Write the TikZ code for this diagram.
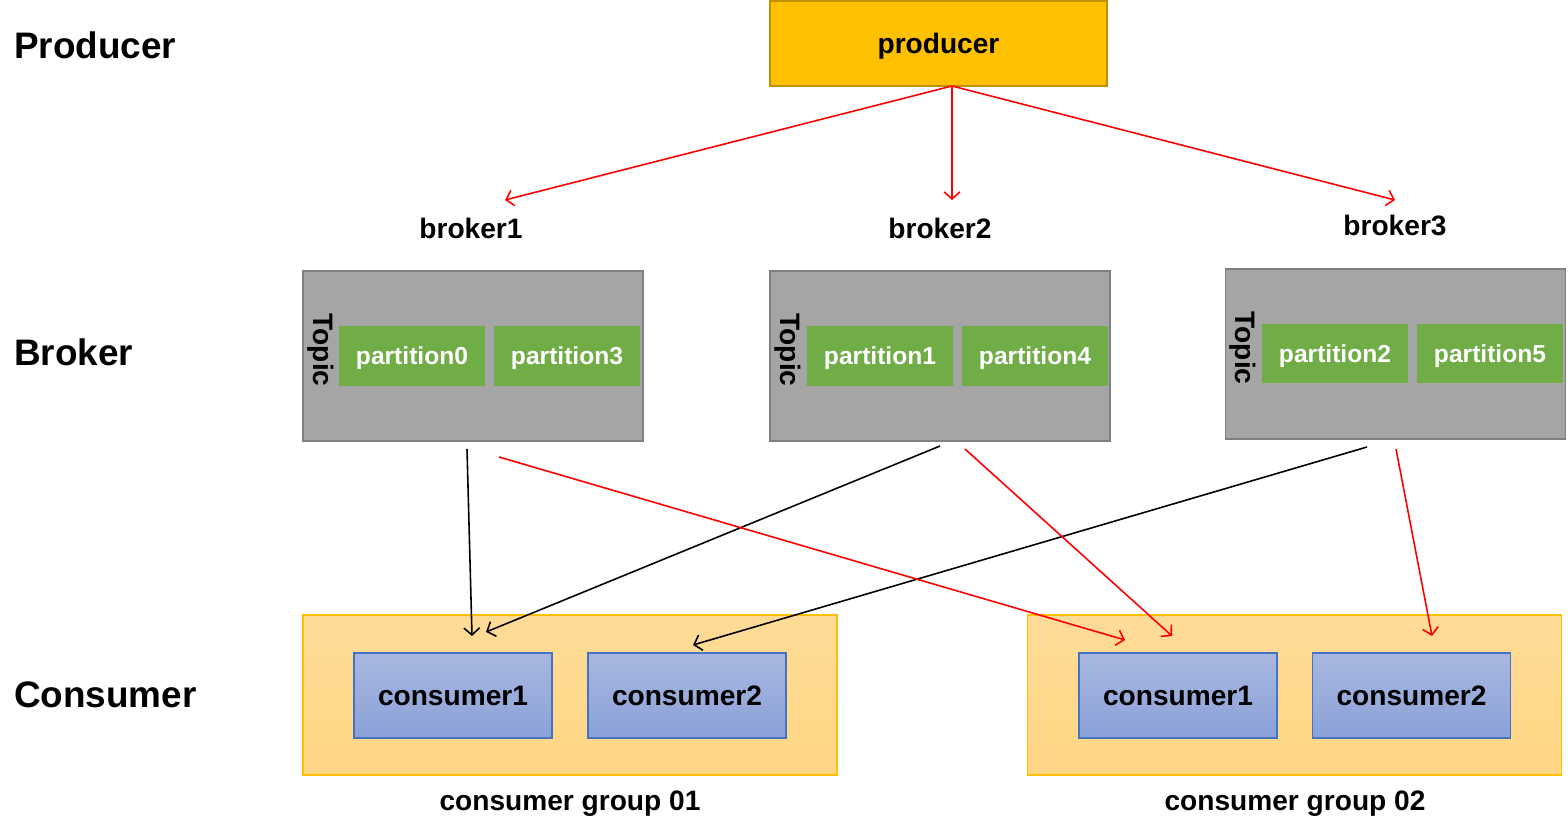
\documentclass[tikz,border=0pt]{standalone}
\usepackage{fontspec}
\setmainfont{Liberation Sans}
\usetikzlibrary{positioning}
\usetikzlibrary{arrows.meta}
\definecolor{prodfill}{HTML}{FFC000}
\definecolor{proddraw}{HTML}{BF9000}
\definecolor{brokerfill}{HTML}{A5A5A5}
\definecolor{brokerdraw}{HTML}{7F7F7F}
\definecolor{partfill}{HTML}{70AD47}
\definecolor{grouptop}{HTML}{FFDB97}
\definecolor{groupbot}{HTML}{FFD684}
\definecolor{grpdraw}{HTML}{FFC000}
\definecolor{constop}{HTML}{A8B7E0}
\definecolor{consbot}{HTML}{8AA1D8}
\definecolor{consdraw}{HTML}{4472C4}
\tikzset{lvl/.style={font=\bfseries\fontsize{21}{25}\selectfont,anchor=west}}
\tikzset{lbl/.style={font=\bfseries\fontsize{16}{19}\selectfont,text depth=0pt}}
\tikzset{prod/.style={rectangle,draw=proddraw,fill=prodfill,line width=1pt,minimum width=6.74cm,minimum height=1.7cm,text depth=0pt,font=\bfseries\fontsize{16}{19}\selectfont}}
\tikzset{brk/.style={rectangle,draw=brokerdraw,fill=brokerfill,line width=1pt,minimum width=6.8cm,minimum height=3.4cm}}
\tikzset{part/.style={rectangle,fill=partfill,text=white,minimum width=2.92cm,minimum height=1.2cm,text depth=0pt,font=\bfseries\fontsize{14}{17}\selectfont}}
\tikzset{grp/.style={rectangle,draw=grpdraw,top color=grouptop,bottom color=groupbot,line width=1pt,minimum width=10.68cm,minimum height=3.2cm}}
\tikzset{cons/.style={rectangle,draw=consdraw,top color=constop,bottom color=consbot,line width=1pt,minimum width=3.96cm,minimum height=1.7cm,text depth=0pt,font=\bfseries\fontsize{16}{19}\selectfont}}
\tikzset{>={Straight Barb[length=4pt,width=9pt]}}
\tikzset{msg/.style={->,red,line width=0.9pt}}
\tikzset{rd/.style={->,black,line width=0.9pt}}

\begin{document}
\begin{tikzpicture}[x=0.02cm,y=-0.02cm]
\useasboundingbox (0,0) rectangle (1568,824);

% row labels
\node[lvl] at (8,45) (Lprod) {Producer};
\node[lvl] at (8,352) (Lbrk) {Broker};
\node[lvl] at (8,695) (Lcons) {Consumer};

\node[prod] at (938.5,43.5) (P) {producer};

\node[lbl] at (471,228) (n1) {broker1};
\node[lbl] at (940,228) (n2) {broker2};
\node[lbl] at (1395,225) (n3) {broker3};

% brokers
\node[brk] at (473,356) (B1) {};
\node[brk] at (940,356) (B2) {};
\node[brk] at (1395.5,354) (B3) {};

\node[part] at (412,356) (p0) {partition0};
\node[part] at (567,356) (p3) {partition3};
\node[part] at (880,356) (p1) {partition1};
\node[part] at (1035,356) (p4) {partition4};
\node[part] at (1335,353.5) (p2) {partition2};
\node[part] at (1490,353.5) (p5) {partition5};

\node[lbl,rotate=-90] at (324,350) (t1) {Topic};
\node[lbl,rotate=-90] at (791,350) (t2) {Topic};
\node[lbl,rotate=-90] at (1246,348) (t3) {Topic};

% consumer groups
\node[grp] at (570,695) (G1) {};
\node[grp] at (1294.5,695) (G2) {};
\node[cons] at (453,695.5) (c11) {consumer1};
\node[cons] at (687,695.5) (c12) {consumer2};
\node[cons] at (1178,695.5) (c21) {consumer1};
\node[cons] at (1411.5,695.5) (c22) {consumer2};
\node[lbl] at (570,801) (g1) {consumer group 01};
\node[lbl] at (1295,801) (g2) {consumer group 02};

% arrow ends
\coordinate (ps) at (952,86);
\coordinate (to1) at (505,200);
\coordinate (to2) at (952,200);
\coordinate (to3) at (1395,200);
\coordinate (b1a) at (467,449);
\coordinate (b1b) at (499,457);
\coordinate (b2a) at (940,446);
\coordinate (b2b) at (965,449);
\coordinate (b3a) at (1367,447);
\coordinate (b3b) at (1396,449);
\coordinate (c11a) at (472,636);
\coordinate (c11b) at (486,632);
\coordinate (c12a) at (693,645);
\coordinate (c21a) at (1125,640);
\coordinate (c21b) at (1172,636);
\coordinate (c22a) at (1432,636);

\draw[msg] (ps) -- (to1);
\draw[msg] (ps) -- (to2);
\draw[msg] (ps) -- (to3);

\draw[rd] (b1a) -- (c11a);
\draw[rd] (b2a) -- (c11b);
\draw[rd] (b3a) -- (c12a);
\draw[msg] (b1b) -- (c21a);
\draw[msg] (b2b) -- (c21b);
\draw[msg] (b3b) -- (c22a);

\end{tikzpicture}
\end{document}
